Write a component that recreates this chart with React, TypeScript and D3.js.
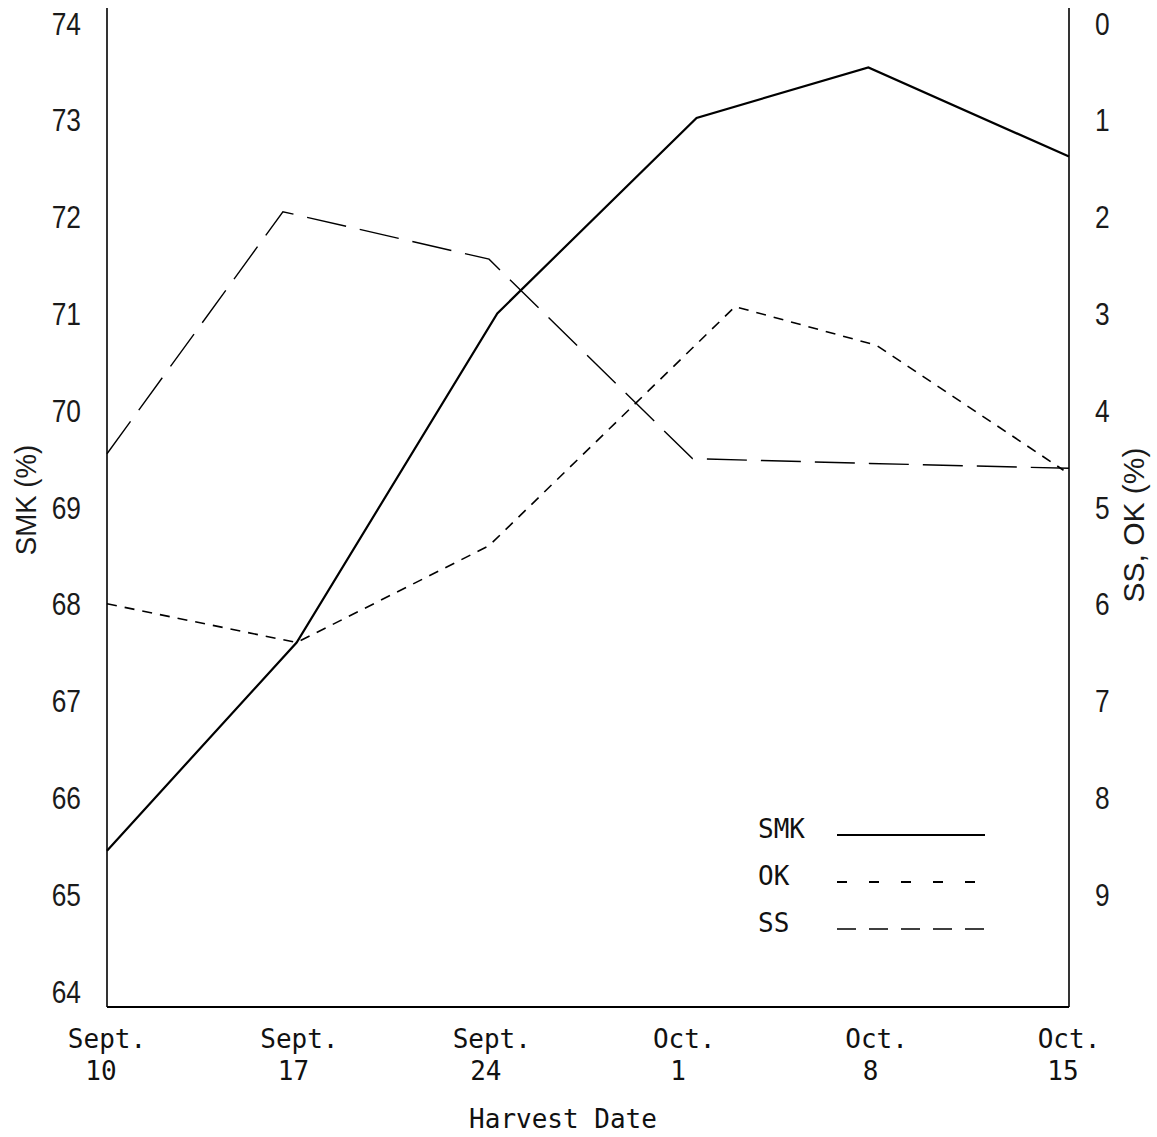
import { useEffect, useRef } from 'react';
import * as d3 from 'd3';

// harvest dates: days after Sept. 10
const dateTicks = [0, 7, 14, 21, 28, 35];
const dateLabels = [
  ['Sept.', '10'],
  ['Sept.', '17'],
  ['Sept.', '24'],
  ['Oct.', '1'],
  ['Oct.', '8'],
  ['Oct.', '15'],
];

// SMK (%), left axis
const smkDays = [0, 6.9, 14.2, 21.45, 27.7, 35];
const smkValues = [65.45, 67.6, 71.0, 73.02, 73.54, 72.62];

// OK (%), right axis
const okDays = [0, 6.9, 13.9, 22.85, 28.0, 34.8];
const okValues = [6.0, 6.4, 5.4, 2.93, 3.33, 4.62];

// SS (%), right axis
const ssDays = [0, 6.4, 13.9, 21.3, 27.75, 35];
const ssValues = [4.45, 1.95, 2.44, 4.5, 4.55, 4.6];

const leftTicks = [64, 65, 66, 67, 68, 69, 70, 71, 72, 73, 74];
const rightTicks = [0, 1, 2, 3, 4, 5, 6, 7, 8, 9];

const legendItems = ['SMK', 'OK', 'SS'];

const App = () => {
  const ref = useRef<SVGSVGElement>(null);

  useEffect(() => {
    const svg = d3.select(ref.current);
    svg.selectAll('*').remove();

    const sans = "'Liberation Sans', Arial, sans-serif";
    const mono = "'DejaVu Sans Mono', 'Liberation Mono', monospace";
    const squeeze = 0.85; // the scan uses a narrow face

    const x = d3.scaleLinear().domain([0, 35]).range([107, 1069]);
    const yL = d3.scaleLinear().domain([74, 64]).range([23, 991]);
    const yR = d3.scaleLinear().domain([0, 10]).range([23, 991]);

    const top = 8;
    const bottom = 1007;

    // frame lines
    svg.append('line')
      .attr('x1', x(0)).attr('x2', x(0)).attr('y1', top).attr('y2', bottom)
      .attr('stroke', '#000').attr('stroke-width', 1.6);
    svg.append('line')
      .attr('x1', x(35)).attr('x2', x(35)).attr('y1', top).attr('y2', bottom)
      .attr('stroke', '#000').attr('stroke-width', 1.6);
    svg.append('line')
      .attr('x1', x(0)).attr('x2', x(35)).attr('y1', bottom).attr('y2', bottom)
      .attr('stroke', '#000').attr('stroke-width', 2.2);

    // left axis
    const gl = svg.append('g')
      .attr('transform', `translate(${x(0)},0)`)
      .call(d3.axisLeft(yL).tickValues(leftTicks).tickSize(0).tickPadding(26).tickFormat(d3.format('d')));
    gl.select('.domain').remove();
    gl.selectAll('text')
      .attr('x', -26 / squeeze)
      .attr('transform', `scale(${squeeze},1)`)
      .attr('font-family', sans).attr('font-size', 31).attr('fill', '#1a1a1a').attr('dy', '0.36em');

    // right axis
    const gr = svg.append('g')
      .attr('transform', `translate(${x(35)},0)`)
      .call(d3.axisRight(yR).tickValues(rightTicks).tickSize(0).tickPadding(26).tickFormat(d3.format('d')));
    gr.select('.domain').remove();
    gr.selectAll('text')
      .attr('x', 26 / squeeze)
      .attr('transform', `scale(${squeeze},1)`)
      .attr('font-family', sans).attr('font-size', 31).attr('fill', '#1a1a1a').attr('dy', '0.36em');

    // bottom labels
    const gb = svg.append('g');
    dateTicks.forEach((d, i) => {
      const t = gb.append('text')
        .attr('font-family', mono).attr('font-size', 26).attr('fill', '#111')
        .attr('text-anchor', 'middle');
      t.append('tspan').attr('x', x(d)).attr('y', 1048).text(dateLabels[i][0]);
      t.append('tspan').attr('x', x(d) - 6).attr('y', 1080).text(dateLabels[i][1]);
    });

    // axis titles
    svg.append('text')
      .attr('transform', `translate(36,500) rotate(-90) scale(0.92,1)`)
      .attr('text-anchor', 'middle')
      .attr('font-family', sans).attr('font-size', 30).attr('fill', '#1a1a1a')
      .text('SMK (%)');
    svg.append('text')
      .attr('transform', `translate(1144,525) rotate(-90)`)
      .attr('text-anchor', 'middle')
      .attr('font-family', sans).attr('font-size', 30).attr('fill', '#1a1a1a')
      .text('SS, OK (%)');
    svg.append('text')
      .attr('x', 563).attr('y', 1128)
      .attr('text-anchor', 'middle')
      .attr('font-family', mono).attr('font-size', 26).attr('fill', '#111')
      .text('Harvest Date');

    // series
    const lineGen = d3.line<[number, number]>().x(d => d[0]).y(d => d[1]);
    const smkPts = smkDays.map((d, i) => [x(d), yL(smkValues[i])] as [number, number]);
    const okPts = okDays.map((d, i) => [x(d), yR(okValues[i])] as [number, number]);
    const ssPts = ssDays.map((d, i) => [x(d), yR(ssValues[i])] as [number, number]);

    svg.append('path').attr('d', lineGen(ssPts)!)
      .attr('fill', 'none').attr('stroke', '#000').attr('stroke-width', 1.4)
      .attr('stroke-dasharray', '40,14');
    svg.append('path').attr('d', lineGen(okPts)!)
      .attr('fill', 'none').attr('stroke', '#000').attr('stroke-width', 1.6)
      .attr('stroke-dasharray', '10,8');
    svg.append('path').attr('d', lineGen(smkPts)!)
      .attr('fill', 'none').attr('stroke', '#000').attr('stroke-width', 2.2);

    // legend
    const styles = [
      { dash: null, w: 2 },
      { dash: '10,22', w: 2 },
      { dash: '19,13', w: 1.4 },
    ];
    const lg = svg.append('g');
    legendItems.forEach((name, i) => {
      const ly = 835 + i * 47;
      lg.append('text')
        .attr('x', 758).attr('y', ly + 3)
        .attr('font-family', mono).attr('font-size', 26).attr('fill', '#111')
        .text(name);
      const l = lg.append('line')
        .attr('x1', 837).attr('x2', 985).attr('y1', ly).attr('y2', ly)
        .attr('stroke', '#000').attr('stroke-width', styles[i].w);
      if (styles[i].dash) l.attr('stroke-dasharray', styles[i].dash);
    });
  }, []);

  return (
    <svg
      ref={ref}
      width={1157}
      height={1137}
      style={{ position: 'absolute', left: 0, top: 0, background: '#fff' }}
    />
  );
};

export default App;
